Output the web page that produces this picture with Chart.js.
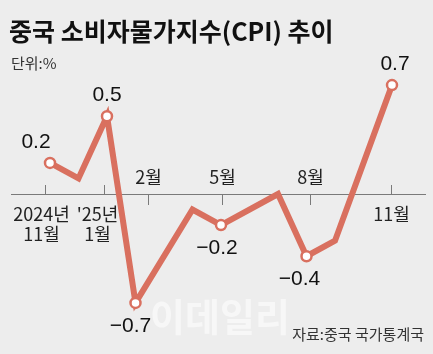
<!DOCTYPE html>
<html>
<head>
<meta charset="utf-8">
<script src="https://cdn.jsdelivr.net/npm/chart.js@4/dist/chart.umd.min.js"></script>
<style>
  html, body { margin: 0; padding: 0; background: #ededed; }
  #wrap { width: 433px; height: 354px; }
</style>
</head>
<body>
<div id="wrap"><canvas id="myChart" width="433" height="354"></canvas></div>
<script>
// months Nov 2024 .. Nov 2025, null = no vertex drawn in the original
var months = ['2024-11','2024-12','2025-01','2025-02','2025-03','2025-04','2025-05','2025-06','2025-07','2025-08','2025-09','2025-10','2025-11'];
var cpi = [0.2, 0.1, 0.5, -0.7, null, -0.1, -0.2, null, 0.0, -0.4, -0.3, null, 0.7];
var shown = [0, 2, 3, 6, 9, 12]; // points with a circle + value label
var tickIdx = [0, 2, 3, 6, 9, 12];
var tickText = [['2024년','11월'], ["'25년",'1월'], ['2월'], ['5월'], ['8월'], ['11월']];
var tickAbove = [false, false, true, true, true, false];

var title = '중국 소비자물가지수(CPI) 추이';
var unit = '단위:%';
var source = '자료:중국 국가통계국';

var lineColor = '#d9705f';
var kr = '"Noto Sans CJK KR", "Noto Sans", sans-serif';

function fmt(v){
	return (v < 0 ? '\u2212' : '') + Math.abs(v).toFixed(1);
}

// small nudges so ticks and labels sit like the original
var labelDx = {0: -14, 2: 0, 3: -5, 6: -4, 9: -7, 12: 3};
var tickDx = [-5, -3, 12, 1, 3, -1];
var tickTextDx = [-4, -7, 0, 0, 0, 0];

var deco = {
	id: 'deco',
	beforeDatasetsDraw(chart){
		var c = chart.ctx, x = chart.scales.x, y = chart.scales.y;
		var y0 = y.getPixelForValue(0);
		c.save();
		// watermark
		c.fillStyle = 'rgba(255,255,255,0.55)';
		c.font = 'bold 38px ' + kr;
		c.textAlign = 'center';
		c.fillText('이데일리', 220, 331);
		// axis
		c.strokeStyle = '#7a7a7a';
		c.lineWidth = 1;
		c.beginPath();
		c.moveTo(11, y0 + 0.5); c.lineTo(426, y0 + 0.5);
		c.stroke();
		c.fillStyle = '#222';
		c.font = '18px ' + kr;
		tickIdx.forEach(function(i, k){
			var px = Math.round(x.getPixelForValue(i) + tickDx[k]) + 0.5;
			c.beginPath();
			if (tickAbove[k]) { c.moveTo(px, y0); c.lineTo(px, y0 + 11); }
			else { c.moveTo(px, y0 - 9); c.lineTo(px, y0); }
			c.stroke();
			var lines = tickText[k];
			if (tickAbove[k]) {
				c.fillText(lines[0], px, y0 - 10);
			} else {
				lines.forEach(function(t, j){ c.fillText(t, px + tickTextDx[k], y0 + 27 + j * 20); });
			}
		});
		c.restore();
	},
	afterDatasetsDraw(chart){
		var c = chart.ctx;
		var meta = chart.getDatasetMeta(0);
		c.save();
		c.textAlign = 'center';
		c.fillStyle = '#111';
		c.font = '21px "Liberation Sans", Arial, sans-serif';
		shown.forEach(function(i){
			var p = meta.data[i], v = cpi[i];
			var ty = v >= 0 ? p.y - 15 : p.y + 29;
			c.fillText(fmt(v), p.x + (labelDx[i] || 0), ty);
		});
		// header / footer
		c.textAlign = 'left';
		c.font = 'bold 25px ' + kr;
		c.fillText(title, 9, 41);
		c.fillStyle = '#333';
		c.font = '15px ' + kr;
		c.fillText(unit, 11, 69);
		c.textAlign = 'right';
		c.fillText(source, 424, 340);
		c.restore();
	}
};

new Chart(document.getElementById('myChart'), {
	type: 'line',
	data: {
		labels: months,
		datasets: [{
			data: cpi,
			borderColor: lineColor,
			borderWidth: 6,
			borderJoinStyle: 'miter',
			tension: 0,
			spanGaps: true,
			pointRadius: function(ctx){ return shown.indexOf(ctx.dataIndex) >= 0 ? 5 : 0; },
			pointBackgroundColor: '#fff',
			pointBorderColor: lineColor,
			pointBorderWidth: 2.5
		}]
	},
	options: {
		responsive: false,
		animation: false,
		layout: { padding: { top: 54, bottom: 20, left: 50, right: 41 } },
		plugins: { legend: { display: false }, tooltip: { enabled: false } },
		scales: {
			x: { display: false, offset: false },
			y: { display: false, min: -0.9, max: 0.9 }
		}
	},
	plugins: [deco]
});
</script>
</body>
</html>
